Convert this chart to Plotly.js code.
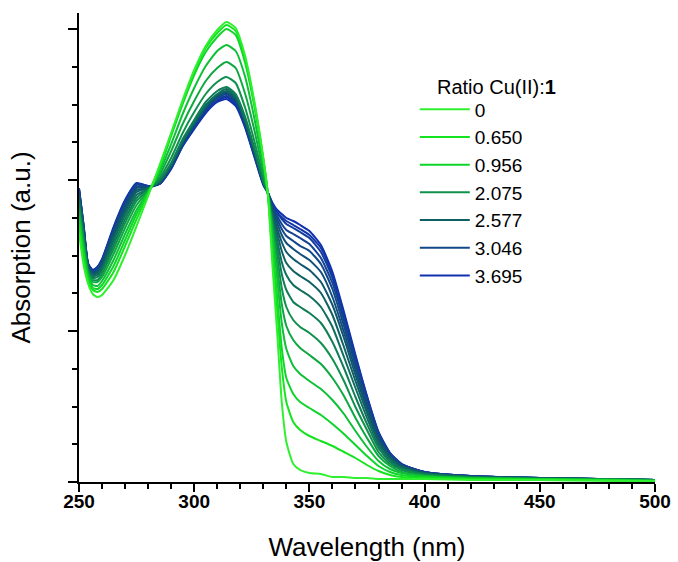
<!DOCTYPE html>
<html>
<head>
<meta charset="utf-8">
<script src="https://cdn.plot.ly/plotly-3.0.1.min.js"></script>
<style>html,body{margin:0;padding:0;background:#fff;}#chart{width:678px;height:562px;}</style>
</head>
<body>
<div id="chart"></div>
<script>
// Wavelength grid (nm)
const wavelength = [250, 252, 254, 256, 258, 260, 265, 270, 275, 280, 285, 290, 295, 300, 305, 310, 314, 318, 322, 326, 330, 332, 334, 336, 338, 340, 343, 346, 350, 355, 360, 365, 370, 375, 380, 385, 390, 400, 420, 450, 500];

// Absorption (a.u.) for each titration step, greenest (no Cu) to bluest (max Cu)
const abs00 = [249,217,198,188,185,187,202,227,256,286,317,349,382,412,436,452,460,454,427,382,324,287,215,150,80,40,18,12,9,8,5,5,4,4,3,3,3,3,2,2,1];
const abs01 = [256,223,201,192,190,193,210,236,263,288,315,348,380,410,434,449,457,451,424,380,323,287,225,172,115,80,60,52,46,41,36,30,24,17,11,7,5,4,3,2,1];
const abs02 = [261,228,203,194,193,197,216,242,268,289,313,346,378,407,430,445,453,447,420,377,322,288,236,186,134,104,88,80,74,67,58,48,37,26,16,10,7,5,3,3,1];
const abs03 = [266,232,206,197,196,201,222,248,272,290,310,338,368,394,416,431,437,431,406,365,316,288,247,204,159,133,116,108,101,93,82,68,51,35,21,13,9,6,4,3,1];
const abs04 = [271,237,208,200,200,205,228,254,277,291,307,331,358,381,401,414,420,414,389,353,310,288,252,216,178,156,142,134,127,118,104,86,64,44,26,16,10,6,4,3,2];
const abs05 = [275,240,210,202,202,208,233,259,281,292,304,324,349,370,388,400,405,399,375,342,305,288,257,226,194,175,162,155,149,139,123,101,75,52,30,18,12,7,4,3,2];
const abs06 = [279,243,211,204,205,211,237,263,284,293,302,319,343,362,380,391,395,388,366,335,301,288,261,235,208,192,180,175,169,159,140,114,85,58,34,20,13,8,5,3,2];
const abs07 = [282,246,213,206,207,213,241,267,287,293,301,318,341,360,377,388,393,386,363,333,300,288,265,242,220,207,197,192,186,175,155,125,94,64,37,22,14,8,5,3,2];
const abs08 = [285,249,214,207,209,215,244,270,290,294,300,317,340,359,376,387,391,384,362,332,300,289,268,249,231,219,211,206,200,189,167,135,101,69,40,24,15,9,5,4,2];
const abs09 = [287,251,215,208,210,217,247,273,292,294,300,317,340,358,375,386,390,383,361,331,300,289,271,254,240,230,223,218,212,200,177,144,107,73,42,25,16,9,5,4,2];
const abs10 = [289,252,216,209,211,219,249,275,294,295,299,316,339,358,375,386,390,383,361,331,299,289,273,259,247,239,233,228,222,210,185,150,112,76,44,26,16,9,5,4,2];
const abs11 = [290,254,216,210,212,220,250,277,295,295,299,316,339,357,374,385,389,382,360,330,299,289,275,263,253,246,241,236,231,218,193,156,117,79,46,27,17,9,6,4,2];
const abs12 = [292,255,217,211,213,221,252,279,297,295,298,315,338,356,373,384,388,381,359,329,299,289,276,266,258,252,248,244,238,224,199,161,120,81,47,28,17,10,6,4,2];
const abs13 = [293,256,217,211,214,222,253,280,298,296,298,315,337,355,372,382,386,379,357,328,298,289,277,269,263,258,254,250,244,230,204,165,123,84,49,28,18,10,6,4,2];
const abs14 = [293,256,218,212,215,222,254,281,298,296,298,314,336,354,370,381,385,378,356,327,298,289,278,270,265,261,257,253,247,234,207,168,125,85,49,29,18,10,6,4,2];
const abs15 = [294,257,218,212,215,223,255,282,299,296,298,313,336,353,369,380,383,376,355,326,297,289,279,272,268,264,261,257,251,237,210,170,127,86,50,29,18,10,6,4,2];

// Legend labels (ratio Cu(II):1) for the labelled steps; null = unlabelled step
const ratioLabels = ['0', '0.650', '0.956', null, null, '2.075', null, null, '2.577', null, null, '3.046', null, null, null, '3.695'];
const legendHeading = 'Ratio Cu(II):<b>1</b>';

const curves = [abs00, abs01, abs02, abs03, abs04, abs05, abs06, abs07, abs08, abs09, abs10, abs11, abs12, abs13, abs14, abs15];
const colors = ['#2ef02e','#14e41e','#0fd42a','#0fc036','#0ea840','#0f904c','#0f7e56','#0f6e5e',
                '#0f6064','#10566e','#114e7c','#134888','#144294','#133c9e','#1236a8','#1030b0'];

const traces = curves.map((y, i) => ({
  x: wavelength, y: y, type: 'scatter', mode: 'lines',
  name: ratioLabels[i] === null ? '' : ratioLabels[i],
  showlegend: ratioLabels[i] !== null,
  line: {color: colors[i], width: 2, shape: 'spline', smoothing: 0.55},
  hoverinfo: 'skip'
})).reverse();

const font = 'Arial, "Liberation Sans", sans-serif';
const layout = {
  width: 678, height: 562,
  margin: {l: 79, r: 23, t: 13, b: 80},
  paper_bgcolor: '#fff', plot_bgcolor: '#fff',
  font: {family: font, color: '#000'},
  showlegend: true,
  legend: {
    x: 0.583, y: 0.835, xanchor: 'left', yanchor: 'top',
    traceorder: 'reversed',
    font: {family: font, size: 19, color: '#000'},
    bgcolor: 'rgba(0,0,0,0)', itemwidth: 50
  },
  annotations: [{
    text: legendHeading, xref: 'paper', yref: 'paper',
    x: (435 - 79) / 576, y: (482 - 87) / 469, xanchor: 'left', yanchor: 'middle',
    showarrow: false, font: {family: font, size: 20, color: '#000'}
  }],
  xaxis: {
    range: [250, 500], showgrid: false, zeroline: false,
    showline: true, linecolor: '#000', linewidth: 2, mirror: false,
    ticks: 'outside', ticklen: 8, tickwidth: 2, tickcolor: '#000',
    tick0: 250, dtick: 50, ticklabelstandoff: -7,
    minor: {dtick: 10, ticks: 'outside', ticklen: 5, tickwidth: 2, tickcolor: '#000', showgrid: false},
    tickfont: {family: font, size: 19, color: '#000', weight: 'bold'},
    title: {text: 'Wavelength (nm)', font: {family: font, size: 26, color: '#000'}, standoff: 27}
  },
  yaxis: {
    range: [0, 469], showgrid: false, zeroline: false,
    showline: true, linecolor: '#000', linewidth: 2, mirror: false,
    ticks: 'outside', ticklen: 9, tickwidth: 2, tickcolor: '#000',
    tick0: 0, dtick: 151, showticklabels: false,
    minor: {dtick: 37.75, ticks: 'outside', ticklen: 5, tickwidth: 2, tickcolor: '#000', showgrid: false},
    title: {text: 'Absorption (a.u.)', font: {family: font, size: 26, color: '#000'}, standoff: 30}
  }
};

Plotly.newPlot('chart', traces, layout, {staticPlot: true, displayModeBar: false});
</script>
</body>
</html>
